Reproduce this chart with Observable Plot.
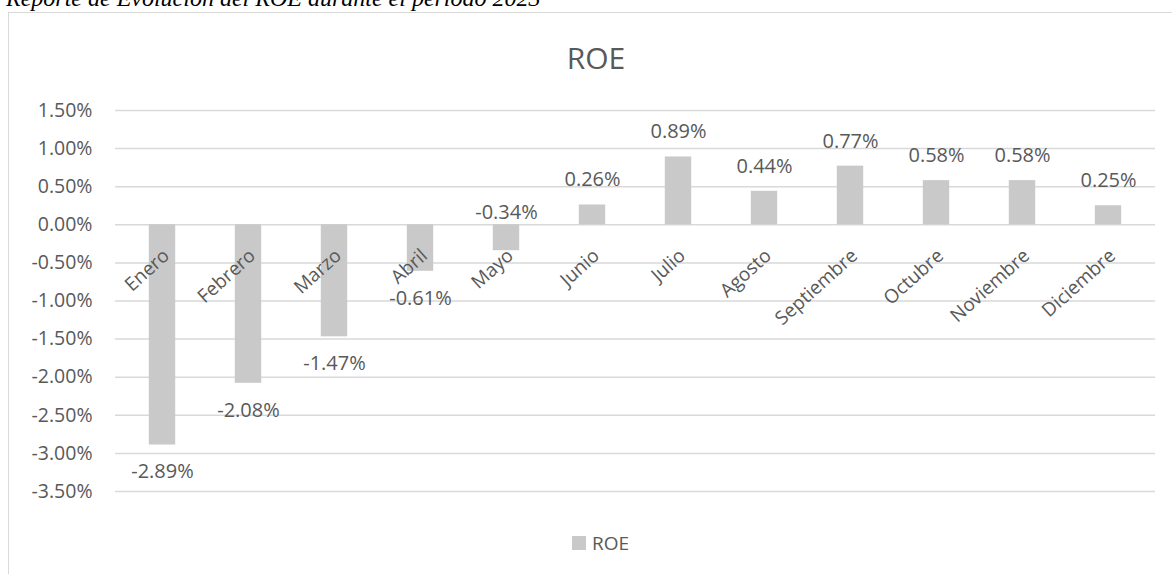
<!DOCTYPE html>
<html>
<head>
<meta charset="utf-8">
<script src="https://cdn.jsdelivr.net/npm/d3@7"></script>
<script src="https://cdn.jsdelivr.net/npm/@observablehq/plot@0.6"></script>
<style>
  html, body { margin: 0; padding: 0; background: #fff; overflow: hidden; }
  #wrap { position: relative; width: 1172px; height: 574px; overflow: hidden; font-family: "Open Sans", sans-serif; }
  #header { position: absolute; left: 6px; top: -14px; font: italic 24px "Liberation Serif", serif; line-height: 24px; color: #000; white-space: nowrap; }
  #frame { position: absolute; left: 8px; top: 12px; width: 1200px; height: 620px; border: 1.5px solid #d9d9d9; box-sizing: border-box; }
  #title { position: absolute; left: 0; width: 1192px; top: 40px; text-align: center; font-size: 30px; color: #595959; line-height: 36px; }
  #legend { position: absolute; left: 572px; top: 532px; font-size: 19px; color: #595959; display: flex; align-items: center; line-height: 22px; }
  #legend span.sw { display: inline-block; width: 14px; height: 14px; background: #c9c9c9; margin-right: 6px; }
  #chart { position: absolute; left: 0; top: 0; }
</style>
</head>
<body>
<div id="wrap">
  <div id="header">Reporte de Evolución del ROE durante el período 2023</div>
  <div id="frame"></div>
  <div id="chart"></div>
  <div id="title">ROE</div>
  <div id="legend"><span class="sw"></span><span>ROE</span></div>
</div>
<script>
const months = ["Enero","Febrero","Marzo","Abril","Mayo","Junio","Julio","Agosto","Septiembre","Octubre","Noviembre","Diciembre"];
const roe = [-2.89, -2.08, -1.47, -0.61, -0.34, 0.26, 0.89, 0.44, 0.77, 0.58, 0.58, 0.25];
const yTicks = [1.5, 1.0, 0.5, 0.0, -0.5, -1.0, -1.5, -2.0, -2.5, -3.0, -3.5];

const data = months.map((m, i) => ({month: m, value: roe[i]}));
const fmt = v => v.toFixed(2) + "%";
const textColor = "#595959";
const font = "Open Sans";

// placement rule: short negative bars carry their label above the axis
const pos = data.filter(d => d.value >= 0);
const negBelow = data.filter(d => d.value < 0 && d.value <= -0.5);
const negAbove = data.filter(d => d.value < 0 && d.value > -0.5);

const chart = Plot.plot({
  width: 1172,
  height: 574,
  marginTop: 110,
  marginBottom: 83,
  marginLeft: 115,
  marginRight: 17,
  style: {fontFamily: font, fontSize: "19px", color: textColor, background: "transparent"},
  x: {domain: months, padding: 0, axis: null},
  y: {domain: [-3.5, 1.5], axis: null},
  marks: [
    Plot.ruleY(yTicks, {stroke: "#d9d9d9", strokeWidth: 1.5}),
    Plot.barY(data, {x: "month", y: "value", fill: "#c9c9c9", insetLeft: 29.8, insetRight: 29.8}),
    Plot.axisY({ticks: yTicks, tickSize: 0, tickPadding: 23, tickFormat: fmt, fontSize: 19.5, fill: textColor, label: null}),
    Plot.text(months, {x: d => d, y: () => 0, rotate: -42, textAnchor: "end", lineAnchor: "middle", dx: 4, dy: 28, fontSize: 19, fill: textColor}),
    Plot.text(pos, {x: "month", y: "value", text: d => fmt(d.value), lineAnchor: "middle", dy: -25, fontSize: 20, fill: textColor}),
    Plot.text(negBelow, {x: "month", y: "value", text: d => fmt(d.value), lineAnchor: "middle", dy: 27, fontSize: 20, fill: textColor}),
    Plot.text(negAbove, {x: "month", y: () => 0, text: d => fmt(d.value), lineAnchor: "middle", dy: -12, fontSize: 20, fill: textColor})
  ]
});
document.getElementById("chart").appendChild(chart);
</script>
</body>
</html>
